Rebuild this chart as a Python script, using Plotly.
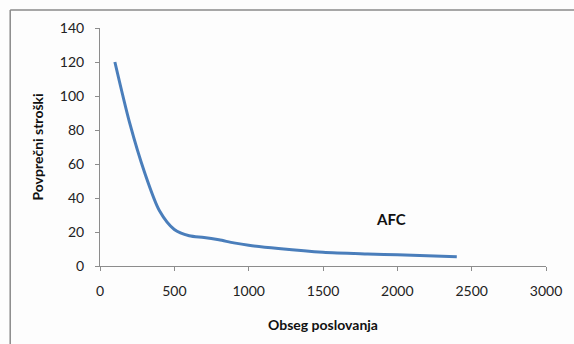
import plotly.graph_objects as go

# Average fixed cost (AFC) against output volume
obseg = [100, 200, 300, 400, 500, 600, 700, 800, 900, 1000, 1200, 1500, 1800, 2000, 2400]
afc = [120, 84, 55, 32.5, 21.5, 17.8, 16.8, 15.4, 13.6, 12.2, 10.3, 8.1, 7.1, 6.6, 5.4]

x_ticks = [0, 500, 1000, 1500, 2000, 2500, 3000]
y_ticks = [0, 20, 40, 60, 80, 100, 120, 140]

W, H = 574, 344
L, R, T, B = 100, 22, 28, 78

fig = go.Figure()
fig.add_trace(go.Scatter(
    x=obseg, y=afc, mode="lines",
    line=dict(color="#4a7ebb", width=3, shape="spline", smoothing=0.8),
    showlegend=False, hoverinfo="skip",
))

axis_common = dict(
    showline=True, linecolor="#8c8c8c", linewidth=1,
    ticks="outside", ticklen=4, tickcolor="#8c8c8c",
    showgrid=False, zeroline=False,
    tickfont=dict(family="Lato", size=14, color="#222222"),
)

fig.update_xaxes(
    range=[0, 3000], tickvals=x_ticks, ticktext=[str(v) for v in x_ticks],
    ticklabelstandoff=8,
    title=dict(text="<b>Obseg poslovanja</b>", font=dict(family="Lato", size=14, color="#111111"), standoff=22),
    **axis_common,
)
fig.update_yaxes(
    range=[0, 140], tickvals=y_ticks, ticktext=[str(v) for v in y_ticks],
    ticklabelstandoff=8,
    title=dict(text="<b>Povprečni stroški</b>", font=dict(family="Lato", size=14, color="#111111"), standoff=12),
    **axis_common,
)

fig.add_annotation(
    x=1956, y=27.4, xref="x", yref="y", text="<b>AFC</b>", showarrow=False,
    font=dict(family="Lato", size=15, color="#111111"),
)

# outer chart frame (left and top edges visible)
pw, ph = W - L - R, H - T - B
fx0 = (9 - L) / pw
fy_top = (H - B - 10) / ph
fig.add_shape(type="line", xref="paper", yref="paper", x0=fx0, x1=fx0, y0=-2, y1=fy_top,
              line=dict(color="#8a8a8a", width=1.5))
fig.add_shape(type="line", xref="paper", yref="paper", x0=fx0, x1=2, y0=fy_top, y1=fy_top,
              line=dict(color="#8a8a8a", width=1.5))

fig.update_layout(
    width=W, height=H,
    margin=dict(l=L, r=R, t=T, b=B),
    paper_bgcolor="#fdfdfd", plot_bgcolor="#fdfdfd",
)

fig.write_html("out.html")
